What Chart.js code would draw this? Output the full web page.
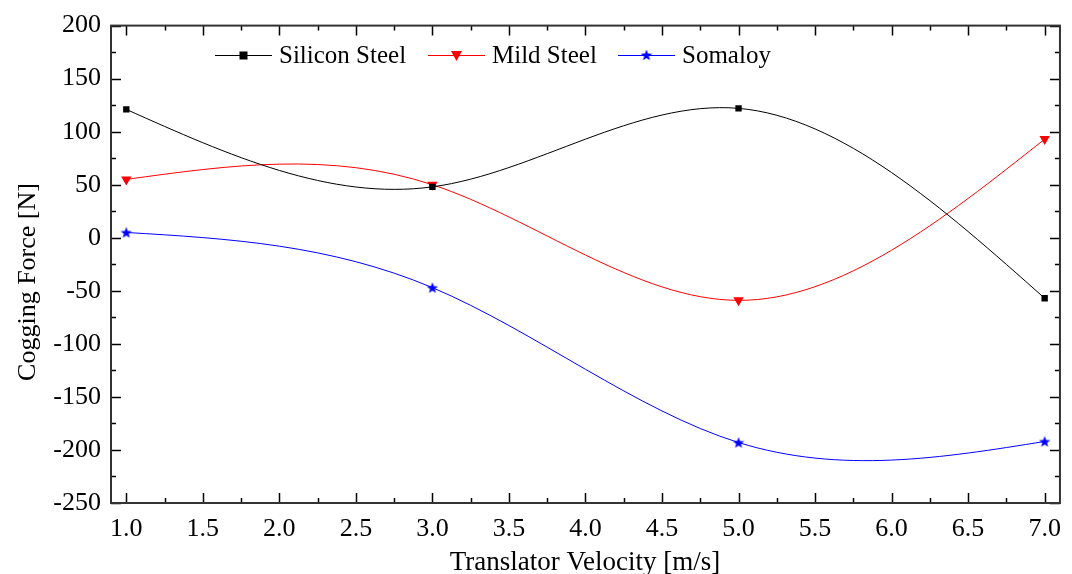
<!DOCTYPE html>
<html>
<head>
<meta charset="utf-8">
<script src="https://cdn.jsdelivr.net/npm/chart.js@4/dist/chart.umd.min.js"></script>
<style>
  html, body { margin: 0; padding: 0; background: #fff; }
  #wrap { width: 1072px; height: 574px; }
</style>
</head>
<body>
<div id="wrap"><canvas id="chart" width="1072" height="574"></canvas></div>
<script>
// data
const velocity = [1.0, 3.0, 5.0, 7.0];
const siliconSteel = [121, 48, 122, -57];
const mildSteel = [55, 50, -59, 93];
const somaloy = [5, -47, -193, -192];

const xTicks = [1.0, 1.5, 2.0, 2.5, 3.0, 3.5, 4.0, 4.5, 5.0, 5.5, 6.0, 6.5, 7.0];
const yTicks = [-250, -200, -150, -100, -50, 0, 50, 100, 150, 200];

const seriesNames = ['Silicon Steel', 'Mild Steel', 'Somaloy'];
const seriesColors = ['#000000', '#ff0000', '#0000ff'];

const FONT = '"Liberation Serif", "Times New Roman", serif';

// filled five point star for Somaloy
function makeStar(size, color) {
    const c = document.createElement('canvas');
    c.width = size; c.height = size;
    const g = c.getContext('2d');
    const cx = size / 2, cy = size / 2 + 0.5;
    const R = size / 2, r = R * 0.42;
    g.beginPath();
    for (let i = 0; i < 10; i++) {
        const rad = i % 2 === 0 ? R : r;
        const a = -Math.PI / 2 + i * Math.PI / 5;
        const px = cx + rad * Math.cos(a), py = cy + rad * Math.sin(a);
        if (i === 0) g.moveTo(px, py); else g.lineTo(px, py);
    }
    g.closePath();
    g.fillStyle = color;
    g.fill();
    return c;
}
const starImg = makeStar(12, '#0000ff');

function pts(ys) {
    return velocity.map((x, i) => ({ x: x, y: ys[i] }));
}

// replace Chart.js bezier control points with natural cubic spline tangents
function naturalSplineCps(points) {
    const n = points.length - 1;
    if (n < 1) return;
    const h = [], M = new Array(n + 1).fill(0);
    for (let i = 0; i < n; i++) h.push(points[i + 1].x - points[i].x);
    // tridiagonal solve for second derivatives
    const a = [], b = [], c = [], d = [];
    for (let i = 1; i < n; i++) {
        a.push(h[i - 1]);
        b.push(2 * (h[i - 1] + h[i]));
        c.push(h[i]);
        d.push(6 * ((points[i + 1].y - points[i].y) / h[i] - (points[i].y - points[i - 1].y) / h[i - 1]));
    }
    const m = d.length;
    for (let i = 1; i < m; i++) {
        const w = a[i] / b[i - 1];
        b[i] -= w * c[i - 1];
        d[i] -= w * d[i - 1];
    }
    for (let i = m - 1; i >= 0; i--) {
        M[i + 1] = (d[i] - (i < m - 1 ? c[i] * M[i + 2] : 0)) / b[i];
    }
    const slope = [];
    for (let i = 0; i < n; i++) {
        slope.push((points[i + 1].y - points[i].y) / h[i] - h[i] * (2 * M[i] + M[i + 1]) / 6);
    }
    slope.push((points[n].y - points[n - 1].y) / h[n - 1] + h[n - 1] * (M[n - 1] + 2 * M[n]) / 6);
    for (let i = 0; i <= n; i++) {
        const p = points[i];
        const hl = i > 0 ? h[i - 1] / 3 : 0;
        const hr = i < n ? h[i] / 3 : 0;
        p.cp1x = p.x - hl; p.cp1y = p.y - slope[i] * hl;
        p.cp2x = p.x + hr; p.cp2y = p.y + slope[i] * hr;
    }
}

const splinePlugin = {
    id: 'splinePlugin',
    beforeDatasetsDraw(chart) {
        chart.data.datasets.forEach((ds, i) => {
            const meta = chart.getDatasetMeta(i);
            const line = meta.dataset;
            if (!line) return;
            line.updateControlPoints(chart.chartArea, 'x');
            naturalSplineCps(line.points);
            delete line._path;
        });
    }
};

// ticks pointing inward on all four sides, plus minor ticks
const frameTicks = {
    id: 'frameTicks',
    afterDraw(chart) {
        const ctx = chart.ctx;
        const a = chart.chartArea;
        const xs = chart.scales.x, ys = chart.scales.y;
        ctx.save();
        ctx.strokeStyle = '#000';
        ctx.lineWidth = 1.5;
        ctx.beginPath();
        for (let i = 0; i < xTicks.length; i++) {
            const px = Math.round(xs.getPixelForValue(xTicks[i])) + 0.5;
            ctx.moveTo(px, a.bottom); ctx.lineTo(px, a.bottom - 10);
            ctx.moveTo(px, a.top); ctx.lineTo(px, a.top + 10);
            if (i < xTicks.length - 1) {
                const mx = Math.round(xs.getPixelForValue((xTicks[i] + xTicks[i + 1]) / 2)) + 0.5;
                ctx.moveTo(mx, a.bottom); ctx.lineTo(mx, a.bottom - 5);
                ctx.moveTo(mx, a.top); ctx.lineTo(mx, a.top + 5);
            }
        }
        for (let i = 0; i < yTicks.length; i++) {
            const py = Math.round(ys.getPixelForValue(yTicks[i])) + 0.5;
            ctx.moveTo(a.left, py); ctx.lineTo(a.left + 10, py);
            ctx.moveTo(a.right, py); ctx.lineTo(a.right - 10, py);
            if (i < yTicks.length - 1) {
                const my = Math.round(ys.getPixelForValue((yTicks[i] + yTicks[i + 1]) / 2)) + 0.5;
                ctx.moveTo(a.left, my); ctx.lineTo(a.left + 5, my);
                ctx.moveTo(a.right, my); ctx.lineTo(a.right - 5, my);
            }
        }
        ctx.stroke();
        ctx.strokeStyle = '#333';
        ctx.lineWidth = 2;
        ctx.strokeRect(a.left, a.top, a.right - a.left, a.bottom - a.top);

        // axis titles
        ctx.fillStyle = '#000';
        ctx.font = '27px ' + FONT;
        ctx.textAlign = 'center';
        ctx.textBaseline = 'alphabetic';
        ctx.fillText('Translator Velocity [m/s]', 585, 570);
        ctx.translate(35, 282);
        ctx.rotate(-Math.PI / 2);
        ctx.font = '26px ' + FONT;
        ctx.fillText('Cogging Force [N]', 0, 0);
        ctx.restore();
    }
};

// legend drawn inside the plot area, one row
const innerLegend = {
    id: 'innerLegend',
    afterDraw(chart) {
        const ctx = chart.ctx;
        const starts = [215, 428, 618];
        const y = 55;
        ctx.save();
        ctx.font = '25px ' + FONT;
        ctx.textBaseline = 'middle';
        seriesNames.forEach((name, i) => {
            const x0 = starts[i];
            const col = seriesColors[i];
            ctx.strokeStyle = col;
            ctx.lineWidth = 1;
            ctx.beginPath();
            ctx.moveTo(x0, y + 0.5); ctx.lineTo(x0 + 57, y + 0.5);
            ctx.stroke();
            const cx = x0 + 28.5;
            ctx.fillStyle = col;
            if (i === 0) {
                ctx.fillRect(cx - 4, y - 3.5, 8, 8);
            } else if (i === 1) {
                ctx.beginPath();
                ctx.moveTo(cx - 5.5, y - 4); ctx.lineTo(cx + 5.5, y - 4); ctx.lineTo(cx, y + 6);
                ctx.closePath(); ctx.fill();
            } else {
                ctx.drawImage(starImg, cx - 6, y - 6);
            }
            ctx.fillStyle = '#000';
            ctx.fillText(name, x0 + 64, y + 1);
        });
        ctx.restore();
    }
};

const ctx = document.getElementById('chart').getContext('2d');
const chart = new Chart(ctx, {
    type: 'line',
    data: {
        datasets: [
            {
                label: seriesNames[0],
                data: pts(siliconSteel),
                borderColor: seriesColors[0],
                backgroundColor: seriesColors[0],
                borderWidth: 1,
                pointStyle: 'rect',
                pointRadius: 4.5,
                pointBorderWidth: 0,
                tension: 0.4
            },
            {
                label: seriesNames[1],
                data: pts(mildSteel),
                borderColor: seriesColors[1],
                backgroundColor: seriesColors[1],
                borderWidth: 1,
                pointStyle: 'triangle',
                pointRotation: 180,
                pointRadius: 6,
                pointBorderWidth: 0,
                tension: 0.4
            },
            {
                label: seriesNames[2],
                data: pts(somaloy),
                borderColor: seriesColors[2],
                backgroundColor: seriesColors[2],
                borderWidth: 1,
                pointStyle: starImg,
                tension: 0.4
            }
        ]
    },
    options: {
        responsive: false,
        animation: false,
        events: [],
        layout: { padding: { top: 23, right: 6, left: 0, bottom: 0 } },
        plugins: {
            legend: { display: false },
            tooltip: { enabled: false }
        },
        scales: {
            x: {
                type: 'linear',
                min: 0.9,
                max: 7.1,
                afterBuildTicks(scale) {
                    scale.ticks = xTicks.map(v => ({ value: v }));
                },
                afterFit(scale) { scale.height = 71; },
                grid: { display: false, drawTicks: false },
                border: { display: false },
                ticks: {
                    color: '#000',
                    padding: 11,
                    maxRotation: 0,
                    autoSkip: false,
                    font: { family: FONT, size: 26 },
                    callback: v => Number(v).toFixed(1)
                }
            },
            y: {
                min: -250,
                max: 200,
                afterBuildTicks(scale) {
                    scale.ticks = yTicks.map(v => ({ value: v }));
                },
                afterFit(scale) { scale.width = 111; },
                grid: { display: false, drawTicks: false },
                border: { display: false },
                ticks: {
                    color: '#000',
                    padding: 10,
                    font: { family: FONT, size: 26 }
                }
            }
        }
    },
    plugins: [splinePlugin, frameTicks, innerLegend]
});
</script>
</body>
</html>
